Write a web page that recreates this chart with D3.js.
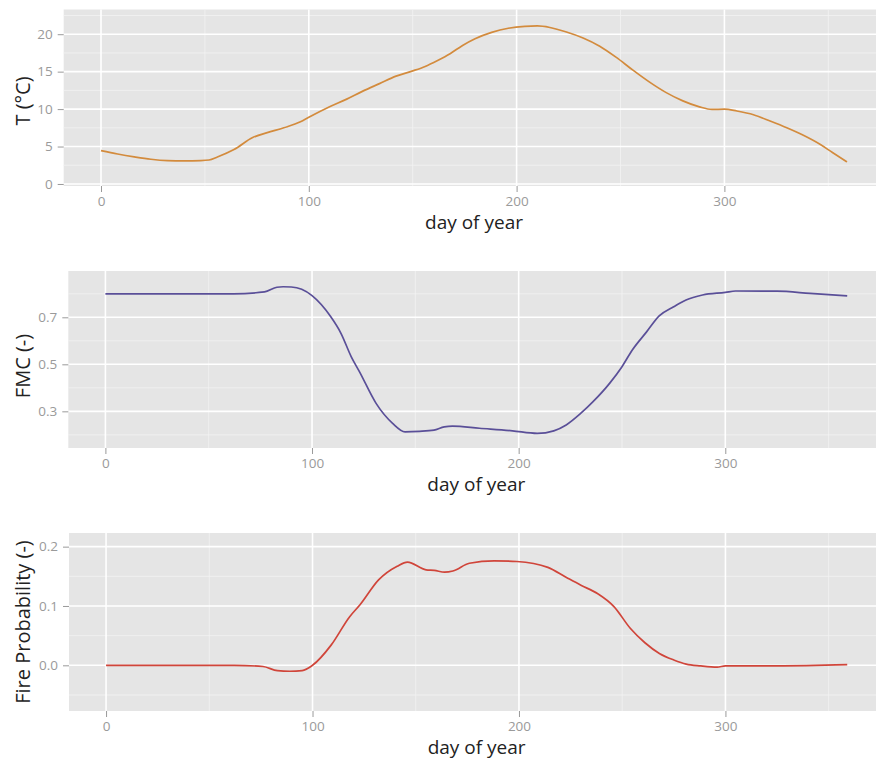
<!DOCTYPE html>
<html>
<head>
<meta charset="utf-8">
<script src="https://cdn.jsdelivr.net/npm/d3@7"></script>
<style>
  body { margin: 0; background: #fff; }
  svg text { font-family: "Open Sans", sans-serif; }
</style>
</head>
<body>
<svg id="chart" width="876" height="760"></svg>
<script>
// Seasonal course of air temperature, fuel moisture content and fire probability
const tempDays   = [0, 8, 16, 24, 32, 40, 48, 52, 56, 64, 73, 80, 88, 96, 100, 110, 118, 126, 134, 142, 150, 156, 162, 168, 174, 180, 188, 196, 204, 210, 216, 224, 232, 240, 248, 256, 264, 272, 280, 288, 294, 300, 306, 314, 322, 330, 338, 346, 352, 359];
const tempValues = [4.45, 4.0, 3.62, 3.3, 3.12, 3.08, 3.12, 3.2, 3.6, 4.6, 6.2, 6.85, 7.5, 8.3, 8.9, 10.3, 11.3, 12.4, 13.4, 14.4, 15.1, 15.7, 16.5, 17.4, 18.5, 19.4, 20.25, 20.8, 21.05, 21.1, 20.9, 20.3, 19.5, 18.4, 16.9, 15.2, 13.6, 12.2, 11.1, 10.3, 9.95, 10.0, 9.75, 9.25, 8.4, 7.5, 6.5, 5.3, 4.2, 2.95];

const fmcDays   = [0, 30, 62, 77, 83, 86, 90, 95, 100, 109, 114, 119, 123, 131, 139, 145, 152, 159, 164, 168, 181, 197, 209, 217, 223, 230, 236, 244, 250, 255, 262, 268, 275, 281, 289, 300, 305, 325, 341, 359];
const fmcValues = [0.80, 0.80, 0.80, 0.808, 0.828, 0.83, 0.829, 0.819, 0.792, 0.703, 0.632, 0.532, 0.468, 0.334, 0.249, 0.213, 0.215, 0.22, 0.234, 0.237, 0.228, 0.217, 0.206, 0.217, 0.242, 0.291, 0.341, 0.419, 0.49, 0.561, 0.639, 0.706, 0.745, 0.774, 0.795, 0.806, 0.812, 0.811, 0.802, 0.791];

const fireDays   = [0, 30, 62, 76, 83, 89, 95, 100, 109, 118, 123, 132, 141, 146, 155, 159, 164, 168, 176, 188, 199, 214, 223, 230, 238, 246, 254, 261, 268, 275, 281, 288, 296, 300, 325, 359];
const fireValues = [0.0, 0.0, 0.0, -0.002, -0.009, -0.010, -0.009, 0.0, 0.034, 0.082, 0.102, 0.144, 0.167, 0.174, 0.161, 0.160, 0.157, 0.159, 0.172, 0.176, 0.175, 0.165, 0.148, 0.135, 0.121, 0.099, 0.062, 0.038, 0.020, 0.009, 0.002, -0.001, -0.003, -0.001, -0.001, 0.001];

const xTicks = [0, 100, 200, 300];
const xMinorTicks = [50, 150, 250, 350];
const tempTicks = [0, 5, 10, 15, 20];
const tempMinorTicks = [2.5, 7.5, 12.5, 17.5, 22.5];
const fmcTicks = [0.3, 0.5, 0.7];
const fmcMinorTicks = [0.2, 0.4, 0.6, 0.8];
const fireTicks = [0.0, 0.1, 0.2];
const fireMinorTicks = [-0.05, 0.05, 0.15];

const xTitle = "day of year";
const yTitles = ["T (°C)", "FMC (-)", "Fire Probability (-)"];

const svg = d3.select("#chart");

const panels = [
  { days: tempDays, values: tempValues, ticks: tempTicks, minor: tempMinorTicks, fmt: d3.format("d"),
    title: yTitles[0], titleY: 101, color: "#d38b3d",
    left: 63.7, top: 9.5, bottom: 186, yDomain: [-0.27, 23.3] },
  { days: fmcDays, values: fmcValues, ticks: fmcTicks, minor: fmcMinorTicks, fmt: d3.format(".1f"),
    title: yTitles[1], titleY: 366, color: "#5a4f98",
    left: 68.3, top: 271, bottom: 448, yDomain: [0.144, 0.897] },
  { days: fireDays, values: fireValues, ticks: fireTicks, minor: fireMinorTicks, fmt: d3.format(".1f"),
    title: yTitles[2], titleY: 622, color: "#d0453a",
    left: 69, top: 533, bottom: 711, yDomain: [-0.077, 0.223] }
];

const xDomain = [-17.95, 376.95];
const panelRight = 884.3;

panels.forEach(p => {
  const x = d3.scaleLinear().domain(xDomain).range([p.left, panelRight]);
  const y = d3.scaleLinear().domain(p.yDomain).range([p.bottom, p.top]);
  const g = svg.append("g");

  g.append("rect")
    .attr("x", p.left).attr("y", p.top)
    .attr("width", panelRight - p.left).attr("height", p.bottom - p.top)
    .attr("fill", "#e5e5e5");

  // minor grid
  g.selectAll(".hminor").data(p.minor).join("line")
    .attr("x1", p.left).attr("x2", panelRight)
    .attr("y1", d => y(d)).attr("y2", d => y(d))
    .attr("stroke", "#f2f2f2").attr("stroke-width", 0.8);
  g.selectAll(".vminor").data(xMinorTicks).join("line")
    .attr("y1", p.top).attr("y2", p.bottom)
    .attr("x1", d => x(d)).attr("x2", d => x(d))
    .attr("stroke", "#f2f2f2").attr("stroke-width", 0.8);

  // major grid
  g.selectAll(".hmajor").data(p.ticks).join("line")
    .attr("x1", p.left).attr("x2", panelRight)
    .attr("y1", d => y(d)).attr("y2", d => y(d))
    .attr("stroke", "#ffffff").attr("stroke-width", 1.6);
  g.selectAll(".vmajor").data(xTicks).join("line")
    .attr("y1", p.top).attr("y2", p.bottom)
    .attr("x1", d => x(d)).attr("x2", d => x(d))
    .attr("stroke", "#ffffff").attr("stroke-width", 1.6);

  // series line
  const line = d3.line()
    .x((d, i) => x(p.days[i]))
    .y(d => y(d))
    .curve(d3.curveMonotoneX);
  g.append("path")
    .datum(p.values)
    .attr("d", line)
    .attr("fill", "none")
    .attr("stroke", p.color)
    .attr("stroke-width", 1.7)
    .attr("stroke-linejoin", "round");

  // axes
  const xAxis = g.append("g")
    .attr("transform", `translate(0,${p.bottom})`)
    .call(d3.axisBottom(x).tickValues(xTicks).tickSize(6).tickPadding(4).tickFormat(d3.format("d")));
  const yAxis = g.append("g")
    .attr("transform", `translate(${p.left},0)`)
    .call(d3.axisLeft(y).tickValues(p.ticks).tickSize(6).tickPadding(5).tickFormat(p.fmt));
  [xAxis, yAxis].forEach(a => {
    a.select(".domain").remove();
    a.selectAll(".tick line").attr("stroke", "#9a9a9a").attr("stroke-width", 1);
    a.selectAll(".tick text").attr("fill", "#9a9a9a").style("font-size", "13.5px")
      .style("font-family", "'Open Sans', sans-serif");
  });

  // axis titles
  g.append("text")
    .attr("x", (p.left + panelRight) / 2)
    .attr("y", p.bottom + 43)
    .attr("text-anchor", "middle")
    .attr("fill", "#222")
    .style("font-size", "19px")
    .text(xTitle);

  g.append("text")
    .attr("transform", `translate(30,${p.titleY}) rotate(-90)`)
    .attr("text-anchor", "middle")
    .attr("fill", "#222")
    .style("font-size", "20px")
    .text(p.title);
});
</script>
</body>
</html>
